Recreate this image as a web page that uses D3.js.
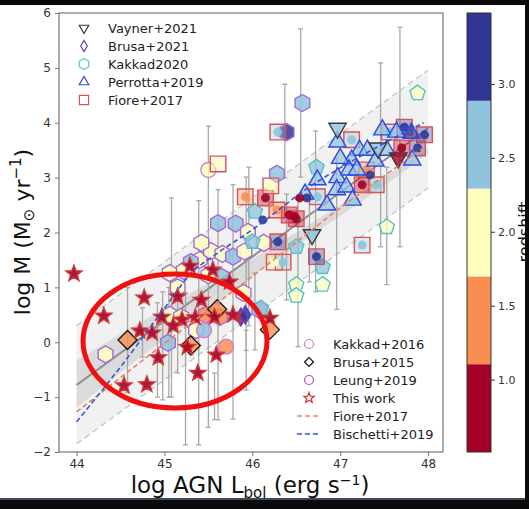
<!DOCTYPE html>
<html>
<head>
<meta charset="utf-8">
<script src="https://cdn.jsdelivr.net/npm/d3@7"></script>
<style>
body { margin: 0; background: #fff; }
text { font-family: "DejaVu Sans", sans-serif; }
</style>
</head>
<body>
<svg width="529" height="509"></svg>
<script>
/* global d3 */
// each point: [log Lbol, log Mdot, redshift]
var vayner = [[46.97, 3.9, 2.6], [47.43, 3.54, 2.6], [47.66, 3.36, 0.8], [46.68, 1.96, 2.6]]
var brusa21 = [[45.87, 0.46, 0.8], [45.92, 0.5, 3.2]]
var kakkad20 = [[46.03, 2.38, 2.6], [46.0, 1.83, 2.6], [46.73, 3.19, 2.6], [46.5, 1.74, 2.6], [46.8, 1.37, 2.6],
  [47.88, 4.54, 2.0], [47.53, 2.1, 2.0], [46.5, 1.05, 2.0], [46.8, 1.05, 2.0], [46.5, 0.85, 2.0], [46.1, 0.62, 2.6]]
var perrotta = [[46.97, 3.65, 2.6], [47.22, 3.5, 2.6], [47.31, 3.5, 2.6], [47.53, 3.5, 2.6], [47.13, 3.32, 2.6],
  [47.1, 3.14, 2.6], [47.19, 3.14, 2.6], [46.74, 2.96, 2.6], [46.97, 3.0, 2.6], [46.96, 2.78, 2.6], [47.07, 2.83, 2.6],
  [47.14, 2.59, 2.6], [47.48, 3.87, 2.6], [47.64, 3.83, 2.6], [47.81, 3.81, 3.2], [47.82, 3.32, 2.6], [46.6, 2.7, 2.6],
  [47.0, 3.35, 2.6], [47.4, 3.3, 2.6], [46.85, 2.5, 2.6]]
var fiore = [[45.61, 3.25, 2.0], [45.92, 2.65, 1.4], [46.15, 2.63, 0.8], [46.21, 2.85, 2.0], [46.28, 2.41, 1.4],
  [46.42, 2.32, 0.8], [46.29, 3.83, 2.6], [46.74, 2.65, 2.6], [46.29, 1.83, 3.2], [46.25, 1.46, 2.0], [46.35, 1.46, 2.6],
  [46.73, 1.56, 3.2], [47.25, 1.77, 2.6], [47.13, 3.69, 2.6], [47.3, 3.14, 1.4], [47.25, 2.87, 0.8], [47.41, 2.87, 2.6],
  [47.56, 3.83, 2.6], [47.73, 3.92, 3.2], [47.96, 3.78, 3.2], [47.7, 3.54, 0.8], [47.88, 3.54, 3.2], [46.5, 2.25, 0.8]]
var kakkad16 = [[45.7, -0.08, 1.4], [45.5, 3.14, 2.0], [45.45, 0.22, 2.6]]
var brusa15 = [[44.58, 0.04, 1.4], [45.3, -0.06, 1.4], [45.6, 0.6, 1.4], [46.2, 0.23, 1.4]]
var leung = [[44.33, -0.22, 2.0], [45.04, -0.01, 2.6], [45.06, 0.5, 2.0], [45.19, 0.46, 2.0], [45.36, 0.22, 2.0],
  [45.47, 0.5, 1.4], [45.63, 0.46, 1.4], [46.08, 0.59, 2.6], [45.06, 1.26, 2.0], [45.4, 1.5, 2.0], [45.3, 1.46, 2.6],
  [45.53, 1.66, 2.0], [45.42, 1.81, 2.0], [45.65, 1.19, 2.6], [45.66, 1.61, 2.0], [45.78, 1.56, 2.6], [45.91, 1.65, 2.0],
  [45.61, 2.17, 2.6], [45.81, 2.16, 2.6], [45.95, 2.01, 2.0], [46.13, 1.81, 2.0], [46.28, 3.07, 2.6], [46.39, 3.83, 3.2],
  [46.57, 4.36, 2.6], [45.15, 1.0, 2.0], [45.9, 0.9, 2.0], [45.22, 1.3, 2.0], [45.5, 1.22, 2.0]]
var thisWork = [[43.97, 1.25, 0.8], [44.31, 0.48, 0.8], [44.54, -0.79, 0.8], [44.77, 0.81, 0.8], [44.72, 0.21, 0.8],
  [44.86, 0.17, 0.8], [44.80, -0.77, 0.8], [44.93, -0.28, 0.8], [44.97, 0.46, 0.8], [45.15, 0.83, 0.8], [45.20, 0.41, 0.8],
  [45.29, 1.39, 0.8], [45.26, -0.09, 0.8], [45.38, -0.56, 0.8], [45.42, 0.77, 0.8], [45.55, 1.32, 0.8], [45.57, 0.46, 0.8],
  [45.59, -0.23, 0.8], [45.74, 1.10, 0.8], [45.78, 0.50, 0.8], [46.20, 0.44, 0.8], [45.35, 0.45, 0.8], [45.10, 0.30, 0.8]]
// loose circles coloured by redshift
var dots = [[46.12, 2.23, 3.2], [46.62, 2.63, 3.2], [46.54, 2.63, 0.8], [46.48, 2.29, 0.8], [47.34, 3.05, 3.2]]

// vertical error bars: x, low, high
var errL = [44.58, 44.75, 44.98, 45.05, 45.15, 45.08, 45.39, 45.5, 45.61, 45.78, 45.93, 45.96, 46.37, 46.55,
  46.72, 46.96, 47.46, 47.53, 47.68, 46.39, 46.52, 44.92, 45.24, 45.57, 45.93, 46.03, 46.65]
var errLo = [-0.92, -0.27, -1.05, -1.0, -0.56, -1.0, -1.87, -1.55, -1.41, -1.4, -0.15, 0.3, 3.0, 3.01,
  0.92, 0.6, 1.74, 1.05, 1.74, 0.77, -0.08, -1.0, -1.87, -1.41, -0.87, -0.14, 1.1]
var errHi = [1.0, 0.63, 0.92, 1.0, 1.14, 2.63, 2.58, 3.94, 2.78, 2.87, 3.01, 3.19, 4.7, 5.71,
  3.85, 3.35, 5.09, 3.19, 5.74, 2.7, 2.6, 0.72, 0.9, -0.56, 0.22, 1.26, 2.6]

// fit and relations
var fitL = [44, 48]
var fitM = [-0.78, 3.9]
var scatterLo = [-1.85, 2.81]
var scatterHi = [0.3, 4.96]
var ciL = [44, 44.5, 45, 45.5, 46, 46.5, 47, 47.5, 48]
var ciLo = [-1.2, -0.55, 0.05, 0.6, 1.2, 1.75, 2.3, 2.85, 3.45]
var ciHi = [-0.33, 0.15, 0.62, 1.08, 1.52, 2.0, 2.5, 3.0, 3.55]
var fioreL = [44, 45, 46, 47, 47.95]
var fioreM = [-1.27, -0.02, 1.2, 2.45, 3.55]
var bischL = [44.0, 44.5, 45.0, 45.3, 45.6, 46.0, 46.65, 47.3, 47.95]
var bischM = [-1.45, -0.45, 0.62, 1.25, 1.62, 2.05, 2.83, 3.45, 4.0]

var zTicks = [1.0, 1.5, 2.0, 2.5, 3.0]
var zColors = ['#a50026', '#f98e52', '#ffffbf', '#90c3dd', '#313695']

var svg = d3.select('svg')
var x = d3.scaleLinear().domain([43.8, 48.17]).range([59, 443])
var y = d3.scaleLinear().domain([-2, 6]).range([452, 13])
var zmin = 0.51
var zmax = 3.48
var zStep = (zmax - zmin) / 5
var zColor = d3.scaleThreshold()
    .domain([1, 2, 3, 4].map(k => zmin + k * zStep))
    .range(zColors)

svg.append('rect').attr('width', 529).attr('height', 509).attr('fill', '#fff')

// shapes
function poly (n, r, rot, sx) {
  var pts = d3.range(n).map(k => {
    var a = rot + 2 * Math.PI * k / n
    return [r * Math.cos(a) * (sx || 1), r * Math.sin(a)]
  })
  return 'M' + pts.join('L') + 'Z'
}
function star (r) {
  var pts = d3.range(10).map(k => {
    var a = -Math.PI / 2 + Math.PI * k / 5
    var rr = k % 2 ? r * 0.42 : r
    return [rr * Math.cos(a), rr * Math.sin(a)]
  })
  return 'M' + pts.join('L') + 'Z'
}
var shapes = {
  hex: r => poly(6, r, -Math.PI / 2),
  pent: r => poly(5, r, -Math.PI / 2),
  up: r => poly(3, r, -Math.PI / 2),
  down: r => poly(3, r, Math.PI / 2),
  square: r => poly(4, r, Math.PI / 4),
  diamond: r => poly(4, r, 0),
  thin: r => poly(4, r, 0, 0.6),
  star: r => star(r),
  circle: r => d3.arc()({ innerRadius: 0, outerRadius: r, startAngle: 0, endAngle: 2 * Math.PI })
}

var plot = svg.append('g')

// scatter band and fit
var band = d3.area().x((d, i) => x(fitL[i])).y0((d, i) => y(scatterLo[i])).y1((d, i) => y(scatterHi[i]))
plot.append('path').datum(fitL).attr('d', band).attr('fill', '#ebebeb').attr('opacity', 0.7)
var line2 = (xs, ys) => d3.line().x((d, i) => x(xs[i])).y((d, i) => y(ys[i]))(xs)
plot.append('path').attr('d', line2(fitL, scatterLo)).attr('fill', 'none').attr('stroke', '#c4c4c4')
  .attr('stroke-dasharray', '6,4').attr('stroke-width', 1.3)
plot.append('path').attr('d', line2(fitL, scatterHi)).attr('fill', 'none').attr('stroke', '#c4c4c4')
  .attr('stroke-dasharray', '6,4').attr('stroke-width', 1.3)
var ci = d3.area().x((d, i) => x(ciL[i])).y0((d, i) => y(ciLo[i])).y1((d, i) => y(ciHi[i])).curve(d3.curveMonotoneX)
plot.append('path').datum(ciL).attr('d', ci).attr('fill', '#d6d6d6').attr('opacity', 0.8)
plot.append('path').attr('d', line2(fitL, fitM)).attr('fill', 'none').attr('stroke', '#8c8c8c').attr('stroke-width', 2)

// error bars
var eb = plot.append('g').attr('stroke', '#a0a0a0').attr('stroke-width', 1.3).attr('opacity', 0.9)
errL.forEach((l, i) => {
  eb.append('line').attr('x1', x(l)).attr('x2', x(l)).attr('y1', y(errLo[i])).attr('y2', y(errHi[i]))
  eb.append('line').attr('x1', x(l) - 2.5).attr('x2', x(l) + 2.5).attr('y1', y(errLo[i])).attr('y2', y(errLo[i]))
  eb.append('line').attr('x1', x(l) - 2.5).attr('x2', x(l) + 2.5).attr('y1', y(errHi[i])).attr('y2', y(errHi[i]))
})

function drawSet (data, shape, r, edge, fillOpacity, inner) {
  var g = plot.append('g')
  g.selectAll('path').data(data).enter().append('path')
    .attr('d', shapes[shape](r))
    .attr('transform', d => 'translate(' + x(d[0]) + ',' + y(d[1]) + ')')
    .attr('fill', d => zColor(d[2]))
    .attr('fill-opacity', fillOpacity)
    .attr('stroke', edge)
    .attr('stroke-width', 1.4)
  if (inner) {
    g.selectAll('circle').data(data).enter().append('circle')
      .attr('cx', d => x(d[0])).attr('cy', d => y(d[1])).attr('r', inner)
      .attr('fill', d => zColor(d[2])).attr('opacity', 0.9)
  }
}

drawSet(leung, 'hex', 8.5, '#a66ad8', 0.85)
drawSet(kakkad16, 'circle', 7.5, '#d17fd6', 0.85)
drawSet(kakkad20, 'pent', 8, '#52c4c0', 0.75)
drawSet(fiore, 'square', 11, '#e05050', 0.35, 4.5)
drawSet(perrotta, 'up', 10, '#2f48e0', 0.7)
drawSet(vayner, 'down', 10, '#3a3a3a', 0.8)
drawSet(brusa15, 'diamond', 9.5, '#1a1a1a', 0.8)
drawSet(brusa21, 'thin', 9, '#5a3ec8', 0.8)
plot.append('g').selectAll('circle').data(dots).enter().append('circle')
  .attr('cx', d => x(d[0])).attr('cy', d => y(d[1])).attr('r', 4.5)
  .attr('fill', d => zColor(d[2])).attr('opacity', 0.9)
drawSet(thisWork, 'star', 8.5, '#d03838', 0.9)

// relations
plot.append('path').attr('d', line2(fioreL, fioreM)).attr('fill', 'none').attr('stroke', '#e8825a')
  .attr('stroke-width', 1.6).attr('stroke-dasharray', '5,3')
plot.append('path').attr('d', d3.line().x((d, i) => x(bischL[i])).y((d, i) => y(bischM[i])).curve(d3.curveMonotoneX)(bischL))
  .attr('fill', 'none').attr('stroke', '#3a52d6').attr('stroke-width', 1.6).attr('stroke-dasharray', '5,3')

// axes
var ax = svg.append('g').attr('font-size', 12).attr('fill', '#333')
ax.append('rect').attr('x', 59).attr('y', 13).attr('width', 384).attr('height', 439)
  .attr('fill', 'none').attr('stroke', '#777').attr('stroke-width', 1.2)
var xAxis = svg.append('g').attr('transform', 'translate(0,452)')
  .call(d3.axisBottom(x).tickValues([44, 45, 46, 47, 48]).tickFormat(d3.format('d')).tickSize(4).tickPadding(3))
var yAxis = svg.append('g').attr('transform', 'translate(59,0)')
  .call(d3.axisLeft(y).tickValues(d3.range(-2, 7)).tickFormat(d => d < 0 ? '\u2212' + (-d) : d).tickSize(4).tickPadding(4))
;[xAxis, yAxis].forEach(a => {
  a.select('.domain').remove()
  a.selectAll('line').attr('stroke', '#777')
  a.selectAll('text').attr('font-size', 12).attr('fill', '#333').attr('font-family', 'DejaVu Sans')
})

svg.append('text').attr('x', 250).attr('y', 493).attr('text-anchor', 'middle')
  .attr('font-size', 23).attr('fill', '#111')
  .html('log AGN L<tspan font-size="15" dy="5">bol</tspan><tspan dy="-5"> (erg s</tspan><tspan font-size="14" dy="-8">\u22121</tspan><tspan dy="8">)</tspan>')
svg.append('text').attr('transform', 'translate(30,232) rotate(-90)').attr('text-anchor', 'middle')
  .attr('font-size', 22).attr('fill', '#111')
  .html('log M (M<tspan font-size="15" dy="4">\u2299</tspan><tspan dy="-4"> yr</tspan><tspan font-size="15" dy="-9">\u22121</tspan><tspan dy="9">)</tspan>')

// legends
var leg1 = [['Vayner+2021', 'down', '#3a3a3a'], ['Brusa+2021', 'thin', '#5a3ec8'], ['Kakkad2020', 'hex', '#4cc8d8'],
  ['Perrotta+2019', 'up', '#2f48e0'], ['Fiore+2017', 'square', '#e05050']]
leg1.forEach((d, i) => {
  var yy = 28 + i * 18
  svg.append('path').attr('d', shapes[d[1]](d[1] === 'square' ? 6.5 : 5.5)).attr('transform', 'translate(84,' + yy + ')')
    .attr('fill', 'none').attr('stroke', d[2]).attr('stroke-width', 1.2)
  svg.append('text').attr('x', 108).attr('y', yy + 4.5).attr('font-size', 13).attr('fill', '#222').text(d[0])
})
var leg2 = [['Kakkad+2016', 'circle', '#cf7fd8'], ['Brusa+2015', 'diamond', '#111'], ['Leung+2019', 'circle', '#b04cc8'],
  ['This work', 'star', '#d03030'], ['Fiore+2017', 'dash', '#e8825a'], ['Bischetti+2019', 'dash', '#3a52d6']]
leg2.forEach((d, i) => {
  var yy = 344 + i * 18
  if (d[1] === 'dash') {
    svg.append('line').attr('x1', 297).attr('x2', 321).attr('y1', yy).attr('y2', yy)
      .attr('stroke', d[2]).attr('stroke-width', 1.6).attr('stroke-dasharray', '5,3')
  } else {
    svg.append('path').attr('d', shapes[d[1]](d[1] === 'star' ? 5.5 : 4.5)).attr('transform', 'translate(309,' + yy + ')')
      .attr('fill', 'none').attr('stroke', d[2]).attr('stroke-width', 1.2)
  }
  svg.append('text').attr('x', 333).attr('y', yy + 4.5).attr('font-size', 13).attr('fill', '#222').text(d[0])
})

// colorbar
var zy = d3.scaleLinear().domain([zmin, zmax]).range([452, 13])
var cb = svg.append('g')
zColors.forEach((c, k) => {
  cb.append('rect').attr('x', 467).attr('width', 24)
    .attr('y', zy(zmin + (k + 1) * zStep)).attr('height', zy(zmin + k * zStep) - zy(zmin + (k + 1) * zStep))
    .attr('fill', c)
})
cb.append('rect').attr('x', 467).attr('y', 13).attr('width', 24).attr('height', 439)
  .attr('fill', 'none').attr('stroke', '#333').attr('stroke-width', 1)
var cAxis = svg.append('g').attr('transform', 'translate(491,0)')
  .call(d3.axisRight(zy).tickValues(zTicks).tickFormat(d3.format('.1f')).tickSize(4).tickPadding(3))
cAxis.select('.domain').remove()
cAxis.selectAll('line').attr('stroke', '#333')
cAxis.selectAll('text').attr('font-size', 11).attr('fill', '#333').attr('font-family', 'DejaVu Sans')
svg.append('text').attr('transform', 'translate(530,232) rotate(-90)').attr('text-anchor', 'middle')
  .attr('font-size', 16).attr('fill', '#111').text('redshift')

// annotation
svg.append('ellipse').attr('cx', 175).attr('cy', 341).attr('rx', 92).attr('ry', 67)
  .attr('fill', 'none').attr('stroke', '#f01010').attr('stroke-width', 5)

// frame bars
svg.append('rect').attr('x', 0).attr('y', 0).attr('width', 529).attr('height', 5).attr('fill', '#0a0a0a')
svg.append('rect').attr('x', 0).attr('y', 499).attr('width', 529).attr('height', 10).attr('fill', '#0a0a0a')
svg.append('rect').attr('x', 0).attr('y', 498).attr('width', 529).attr('height', 2).attr('fill', '#3c4a5a')
svg.append('rect').attr('x', 525).attr('y', 0).attr('width', 4).attr('height', 509).attr('fill', '#0a0a0a')
</script>
</body>
</html>
